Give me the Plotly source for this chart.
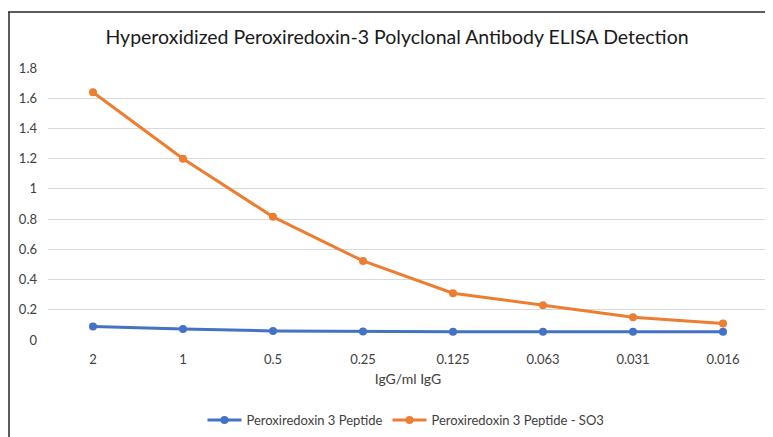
import plotly.graph_objects as go

concentrations = ["2", "1", "0.5", "0.25", "0.125", "0.063", "0.031", "0.016"]
peptide = [0.09, 0.072, 0.06, 0.056, 0.055, 0.055, 0.055, 0.055]
peptide_so3 = [1.64, 1.20, 0.815, 0.523, 0.31, 0.23, 0.15, 0.11]
y_ticks = [0, 0.2, 0.4, 0.6, 0.8, 1, 1.2, 1.4, 1.6, 1.8]
y_tick_labels = ["0", "0.2", "0.4", "0.6", "0.8", "1", "1.2", "1.4", "1.6", "1.8"]

FONT = "Lato, Carlito, Calibri, sans-serif"
BLUE = "#4472C4"
ORANGE = "#ED7D31"

W, H = 765, 429
ML, MR, MT, MB = 40, 5, 60, 97
PW, PH = W - ML - MR, H - MT - MB

fig = go.Figure()
fig.add_trace(go.Scatter(x=concentrations, y=peptide, mode="lines+markers",
                         name="Peroxiredoxin 3 Peptide",
                         line=dict(color=BLUE, width=3),
                         marker=dict(color=BLUE, size=8)))
fig.add_trace(go.Scatter(x=concentrations, y=peptide_so3, mode="lines+markers",
                         name="Peroxiredoxin 3 Peptide - SO3",
                         line=dict(color=ORANGE, width=3),
                         marker=dict(color=ORANGE, size=8)))

fig.update_layout(
    width=W, height=H,
    margin=dict(l=ML, r=MR, t=MT, b=MB, autoexpand=False),
    paper_bgcolor="white", plot_bgcolor="white",
    font=dict(family=FONT, color="#595959", size=13),
    title=dict(text="Hyperoxidized Peroxiredoxin-3 Polyclonal Antibody ELISA Detection",
               x=389 / W, xanchor="center", y=1 - 29 / H, yanchor="middle",
               font=dict(family=FONT, size=19.5, color="#1a1a1a")),
    xaxis=dict(type="category", range=[-0.5, 7.5], showgrid=False, zeroline=False,
               showline=False, ticks="", ticklabelstandoff=10,
               tickfont=dict(size=13, color="#404040"),
               title=dict(text="IgG/ml IgG", font=dict(size=14, color="#404040"), standoff=8)),
    yaxis=dict(range=[0, 1.8], tickvals=y_ticks, ticktext=y_tick_labels,
               showgrid=True, gridcolor="#D9D9D9", gridwidth=1, zeroline=False,
               showline=False, ticks="", ticklabelstandoff=10,
               tickfont=dict(size=13, color="#404040")),
    legend=dict(orientation="h", x=(398 - ML) / PW, xanchor="center",
                y=-(412 - (MT + PH)) / PH, yanchor="middle",
                font=dict(size=13, color="#404040"), itemwidth=34),
    showlegend=True,
)

# outer chart border (top and left edges visible in the reference)
fig.add_shape(type="line", xref="paper", yref="paper",
              x0=-ML / PW, x1=1.1, y0=1 + (MT - 4) / PH, y1=1 + (MT - 4) / PH,
              line=dict(color="#262626", width=1.5))
fig.add_shape(type="line", xref="paper", yref="paper",
              x0=-ML / PW + 1 / PW, x1=-ML / PW + 1 / PW, y0=1 + (MT - 4) / PH, y1=-0.6,
              line=dict(color="#262626", width=1.5))

fig.write_html("out.html")
